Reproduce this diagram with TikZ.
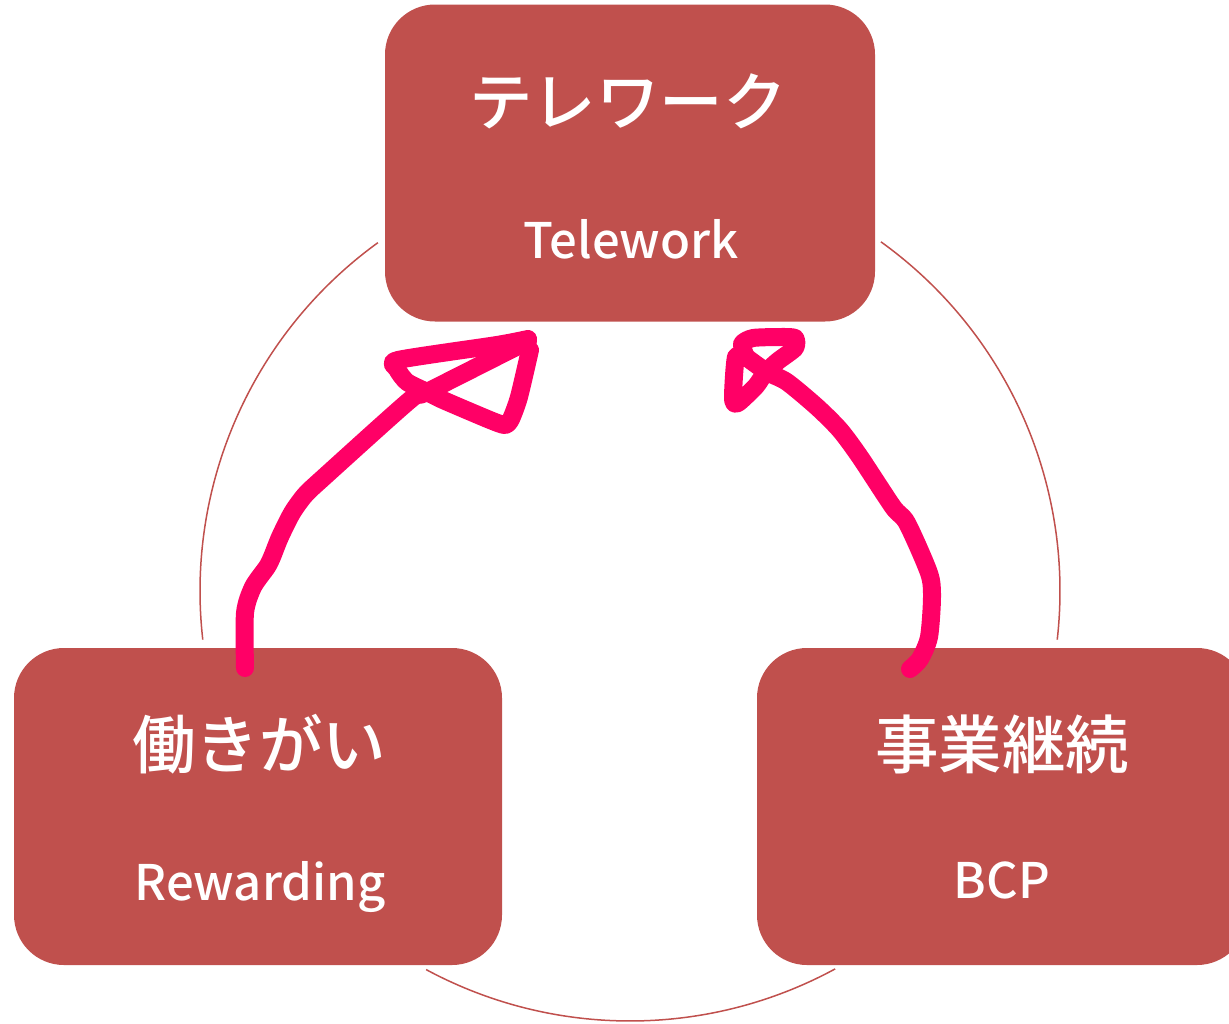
\documentclass[tikz,border=0pt]{standalone}
\usepackage{fontspec}
\IfFontExistsTF{Noto Sans CJK JP Medium}
  {\setmainfont{Noto Sans CJK JP Medium}}
  {\setmainfont{Noto Sans CJK JP}[FakeBold=1.2]}
\definecolor{boxred}{HTML}{C0504D}
\definecolor{pen}{HTML}{FF0066}
\begin{document}
\begin{tikzpicture}[x=1pt,y=-1pt,
  box/.style={draw=none,fill=boxred,rounded corners=50pt,minimum width=490pt,minimum height=317pt,inner sep=0pt},
  jp/.style={text=white,font=\fontsize{63.5}{72}\selectfont,inner sep=0pt},
  en/.style={text=white,font=\fontsize{49}{60}\selectfont,inner sep=0pt,anchor=base},
  ring/.style={draw=boxred,line width=1.5pt},
  scribble/.style={draw=pen,line width=18pt,line cap=round,line join=round}]
\useasboundingbox (0,0) rectangle (1229,1023);
\clip (0,0) rectangle (1229,1023);
% background cycle arcs (centre 630,591; radius 430)
\coordinate (c) at (630,591);
\draw[ring] ([shift={(125.9:430pt)}]c) arc[start angle=125.9,end angle=186.5,radius=430pt];
\draw[ring] ([shift={(54.3:430pt)}]c) arc[start angle=54.3,end angle=-6.5,radius=430pt];
\draw[ring] ([shift={(241.7:430pt)}]c) arc[start angle=241.7,end angle=298.5,radius=430pt];
% boxes
\node[box] (top) at (630,163) {};
\node[box,minimum width=488pt] (left) at (258,806.5) {};
\node[box] (right) at (1002,806.5) {};
% texts
\node[jp] (topjp) at (628,101) {テレワーク};
\node[en] (topen) at (631,258) {Telework};
\node[jp] (leftjp) at (259,744) {働きがい};
\node[en] (leften) at (260,900) {Rewarding};
\node[jp] (rightjp) at (1002,744) {事業継続};
\node[en] (righten) at (1002,898) {BCP};
% freehand arrows
\draw[scribble] plot[smooth,tension=0.45] coordinates {(245,668) (245,613) (253,587) (267,567) (272,557) (280,537) (292,513) (305,495) (323,478) (410,400) (427,392) (528,341)};
\draw[scribble] plot[smooth,tension=0.4] coordinates {(528,339) (497,345) (398,360) (397,369) (407,382) (427,392) (443,400) (490,420) (505,425) (511,419) (519,397) (530,350)};
\draw[scribble] plot[smooth,tension=0.45] coordinates {(910,669) (920,659) (929,637) (932,597) (929,573) (907,523) (893,507) (860,457) (840,430) (817,407) (787,382) (767,372) (746,357)};
\draw[scribble] plot[smooth,tension=0.4] coordinates {(746,357) (736,357) (733,399) (738,403) (756,386) (765,373) (778,361) (795,348) (795,338) (780,337) (753,338) (742,344) (746,357)};
\end{tikzpicture}
\end{document}
